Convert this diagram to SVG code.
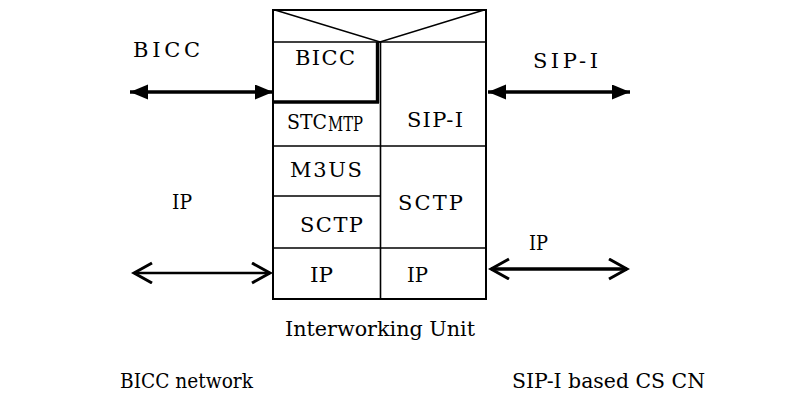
<svg xmlns="http://www.w3.org/2000/svg" width="806" height="401" viewBox="0 0 806 401">
<style>
text{font-family:'DejaVu Serif',serif;fill:#000;font-size:21px}
.b{fill:none;stroke:#000;stroke-width:2}
.t{fill:none;stroke:#000;stroke-width:1.6}
.k{fill:none;stroke:#000;stroke-width:3.4}
.ah{stroke:#000;stroke-width:3.4;fill:none}
.ao{stroke:#000;fill:none}
</style>
<defs>
<marker id="fill" markerUnits="userSpaceOnUse" markerWidth="20" markerHeight="16" refX="18" refY="7.5" orient="auto-start-reverse" viewBox="0 0 20 16">
<path d="M0,0 L18,7.5 L0,15 Z" fill="#000"/>
</marker>
<marker id="open" markerUnits="userSpaceOnUse" markerWidth="22" markerHeight="24" refX="19" refY="11" orient="auto-start-reverse" viewBox="0 0 22 24">
<path d="M1,1 L19,11 L1,21" fill="none" stroke="#000" stroke-width="3"/>
</marker>
</defs>
<rect width="806" height="401" fill="#fff"/>
<g id="iwu">
<rect class="b" x="273" y="10" width="213" height="289"/>
<line class="t" x1="273" y1="42" x2="486" y2="42"/>
<polyline class="t" points="275,10 380,42 484,10"/>
<line class="t" x1="380.5" y1="42" x2="380.5" y2="299"/>
<line class="k" x1="377.5" y1="42" x2="377.5" y2="103"/>
<line class="k" x1="273" y1="102" x2="379" y2="102"/>
<line class="t" x1="273" y1="146" x2="486" y2="146"/>
<line class="t" x1="273" y1="196" x2="380" y2="196"/>
<line class="t" x1="273" y1="248" x2="486" y2="248"/>
<text x="295" y="65" textLength="60" lengthAdjust="spacing">BICC</text>
<text x="287" y="129" font-size="17" textLength="40" lengthAdjust="spacingAndGlyphs">STC</text>
<text x="328" y="131" font-size="13" textLength="35" lengthAdjust="spacingAndGlyphs">MTP</text>
<text x="407" y="127" textLength="56" lengthAdjust="spacing">SIP-I</text>
<text x="290" y="177" textLength="72" lengthAdjust="spacing">M3US</text>
<text x="300" y="232" textLength="63" lengthAdjust="spacing">SCTP</text>
<text x="398" y="210" textLength="65" lengthAdjust="spacing">SCTP</text>
<text x="310" y="282" textLength="23" lengthAdjust="spacingAndGlyphs">IP</text>
<text x="407" y="282" textLength="21" lengthAdjust="spacingAndGlyphs">IP</text>
<text x="285" y="336" textLength="190" lengthAdjust="spacingAndGlyphs">Interworking Unit</text>
</g>
<g id="labels">
<text x="133" y="57" textLength="67" lengthAdjust="spacing">BICC</text>
<text x="533" y="68" textLength="65" lengthAdjust="spacing">SIP-I</text>
<text x="172" y="209" textLength="20" lengthAdjust="spacingAndGlyphs">IP</text>
<text x="529" y="250" textLength="19" lengthAdjust="spacingAndGlyphs">IP</text>
<text x="120" y="388" textLength="133" lengthAdjust="spacingAndGlyphs">BICC network</text>
<text x="512" y="388" textLength="193" lengthAdjust="spacingAndGlyphs">SIP-I based CS CN</text>
</g>
<g id="connectors">
<line class="ah" x1="130" y1="92" x2="273" y2="92" marker-start="url(#fill)" marker-end="url(#fill)"/>
<line class="ah" x1="488" y1="92" x2="630" y2="92" marker-start="url(#fill)" marker-end="url(#fill)"/>
<line class="ao" stroke-width="2.6" x1="134" y1="273" x2="270" y2="273" marker-start="url(#open)" marker-end="url(#open)"/>
<line class="ao" stroke-width="3.4" x1="491" y1="269" x2="627" y2="269" marker-start="url(#open)" marker-end="url(#open)"/>
</g>
</svg>
